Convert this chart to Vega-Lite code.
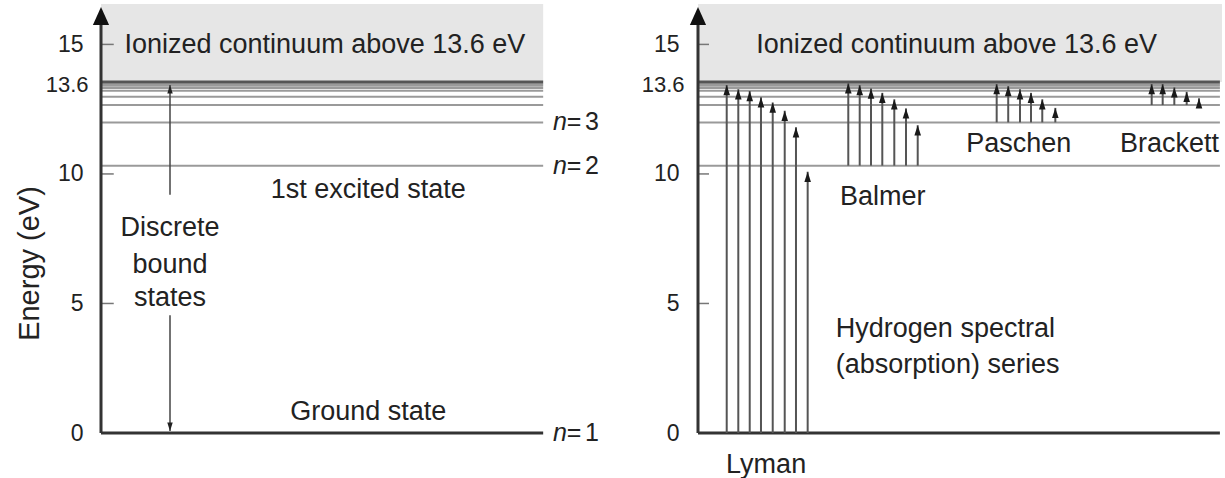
{
  "$schema": "https://vega.github.io/schema/vega-lite/v6.json",
  "padding": {"left": 15, "top": 4, "right": 0, "bottom": 0},
  "background": "white",
  "spacing": 87,
  "bounds": "flush",
  "config": {
    "font": "Liberation Sans",
    "view": {"stroke": null},
    "text": {"font": "Liberation Sans", "fontSize": 27, "color": "#222", "baseline": "middle"}
  },
  "datasets": {
    "levels": [
      {"n": 2, "E": 10.32}, {"n": 3, "E": 11.99}, {"n": 4, "E": 12.66}, {"n": 5, "E": 12.98},
      {"n": 6, "E": 13.21}, {"n": 7, "E": 13.32}, {"n": 8, "E": 13.40}, {"n": 9, "E": 13.46}
    ],
    "limit": [{"E": 13.55, "top": 16.56}],
    "ticks": [{"E": 5}, {"E": 10}, {"E": 15}],
    "nlabels": [{"n": "1", "E": 0}, {"n": "2", "E": 10.32}, {"n": "3", "E": 11.99}],
    "leftlabels": [
      {"text": "Ionized continuum above 13.6 eV", "pos": 43.9, "E": 14.97},
      {"text": "1st excited state", "pos": 52.4, "E": 9.38},
      {"text": "Ground state", "pos": 52.4, "E": 0.81},
      {"text": "Discrete", "pos": 13.53, "E": 7.91},
      {"text": "bound", "pos": 13.53, "E": 6.48},
      {"text": "states", "pos": 13.53, "E": 5.21}
    ],
    "bound": [
      {"part": "upper", "from": 9.2, "to": 13.43},
      {"part": "lower", "from": 4.55, "to": 0.08}
    ],
    "rightlabels": [
      {"text": "Ionized continuum above 13.6 eV", "pos": 49.37, "E": 14.97},
      {"text": "Paschen", "pos": 61.2, "E": 11.15},
      {"text": "Brackett", "pos": 90.0, "E": 11.15},
      {"text": "Lyman", "pos": 13.0, "E": -1.24}
    ],
    "rightleftlabels": [
      {"text": "Balmer", "pos": 27.1, "E": 9.11},
      {"text": "Hydrogen spectral", "pos": 26.3, "E": 4.01},
      {"text": "(absorption) series", "pos": 26.3, "E": 2.62}
    ],
    "transitions": [
      {"series": "Lyman", "pos": 5.48, "lower": 0, "upper": 13.43},
      {"series": "Lyman", "pos": 7.69, "lower": 0, "upper": 13.27},
      {"series": "Lyman", "pos": 9.87, "lower": 0, "upper": 13.20},
      {"series": "Lyman", "pos": 12.02, "lower": 0, "upper": 12.96},
      {"series": "Lyman", "pos": 14.26, "lower": 0, "upper": 12.76},
      {"series": "Lyman", "pos": 16.55, "lower": 0, "upper": 12.44},
      {"series": "Lyman", "pos": 18.70, "lower": 0, "upper": 11.80},
      {"series": "Lyman", "pos": 20.93, "lower": 0, "upper": 10.08},
      {"series": "Balmer", "pos": 28.68, "lower": 10.32, "upper": 13.50},
      {"series": "Balmer", "pos": 30.86, "lower": 10.32, "upper": 13.43},
      {"series": "Balmer", "pos": 33.02, "lower": 10.32, "upper": 13.30},
      {"series": "Balmer", "pos": 35.17, "lower": 10.32, "upper": 13.13},
      {"series": "Balmer", "pos": 37.46, "lower": 10.32, "upper": 12.88},
      {"series": "Balmer", "pos": 39.69, "lower": 10.32, "upper": 12.53},
      {"series": "Balmer", "pos": 41.93, "lower": 10.32, "upper": 11.88},
      {"series": "Paschen", "pos": 57.0, "lower": 11.99, "upper": 13.47},
      {"series": "Paschen", "pos": 59.2, "lower": 11.99, "upper": 13.39},
      {"series": "Paschen", "pos": 61.45, "lower": 11.99, "upper": 13.27},
      {"series": "Paschen", "pos": 63.55, "lower": 11.99, "upper": 13.13},
      {"series": "Paschen", "pos": 65.7, "lower": 11.99, "upper": 12.88},
      {"series": "Paschen", "pos": 68.19, "lower": 11.99, "upper": 12.55},
      {"series": "Brackett", "pos": 86.58, "lower": 12.66, "upper": 13.47},
      {"series": "Brackett", "pos": 88.68, "lower": 12.66, "upper": 13.47},
      {"series": "Brackett", "pos": 90.9, "lower": 12.66, "upper": 13.34},
      {"series": "Brackett", "pos": 93.26, "lower": 12.66, "upper": 13.17},
      {"series": "Brackett", "pos": 95.61, "lower": 12.66, "upper": 12.92}
    ]
  },
  "hconcat": [
    {
      "width": 510,
      "height": 429,
      "layer": [
        {
          "data": {"name": "limit"},
          "mark": {"type": "rect", "color": "#e6e6e6"},
          "encoding": {
            "x": {"datum": 0, "type": "quantitative", "scale": {"domain": [0, 100]}, "axis": null},
            "x2": {"datum": 86.7},
            "y": {
              "field": "E", "type": "quantitative",
              "scale": {"domain": [0, 16.56], "nice": false, "zero": false},
              "axis": {
                "values": [0, 5, 10, 13.6, 15],
                "labelExpr": "datum.value == 13.6 ? '13.6' : format(datum.value, 'd')",
                "domain": false, "ticks": false, "grid": false,
                "labelFont": "Liberation Sans",
                "labelColor": "#222",
                "labelFontSize": {"condition": {"test": "datum.value == 13.6", "value": 22}, "value": 23},
                "labelPadding": {"condition": {"test": "datum.value == 13.6", "value": 13}, "value": 18},
                "labelOffset": {"condition": {"test": "datum.value == 13.6", "value": 4}, "value": 0},
                "labelOverlap": false,
                "labelFlush": false,
                "title": "Energy (eV)",
                "titleFont": "Liberation Sans",
                "titleFontSize": 29,
                "titleFontWeight": "normal",
                "titleColor": "#222",
                "titleAngle": -90,
                "titleX": -72,
                "titleY": 259,
                "titleAlign": "center",
                "titleBaseline": "middle"
              }
            },
            "y2": {"field": "top"}
          }
        },
        {
          "data": {"name": "levels"},
          "mark": {"type": "rule", "color": "#9a9a9a", "strokeWidth": 2},
          "encoding": {
            "x": {"datum": 0, "type": "quantitative"},
            "x2": {"datum": 86.7},
            "y": {"field": "E", "type": "quantitative"}
          }
        },
        {
          "data": {"name": "limit"},
          "mark": {"type": "rule", "color": "#555", "strokeWidth": 3},
          "encoding": {
            "x": {"datum": 0, "type": "quantitative"},
            "x2": {"datum": 86.7},
            "y": {"field": "E", "type": "quantitative"}
          }
        },
        {
          "data": {"name": "ticks"},
          "mark": {"type": "rule", "color": "#777", "strokeWidth": 1.5},
          "encoding": {
            "x": {"datum": 0, "type": "quantitative"},
            "x2": {"datum": 2.5},
            "y": {"field": "E", "type": "quantitative"}
          }
        },
        {
          "data": {"values": [{}]},
          "mark": {"type": "rule", "color": "#333", "strokeWidth": 3},
          "encoding": {
            "x": {"datum": 0, "type": "quantitative"},
            "x2": {"datum": 86.7},
            "y": {"datum": 0, "type": "quantitative"}
          }
        },
        {
          "data": {"values": [{}]},
          "mark": {"type": "rule", "color": "#333", "strokeWidth": 3},
          "encoding": {
            "x": {"datum": 0, "type": "quantitative"},
            "y": {"datum": 0, "type": "quantitative"},
            "y2": {"datum": 16.0}
          }
        },
        {
          "data": {"values": [{}]},
          "mark": {"type": "point", "filled": true, "opacity": 1, "color": "#111", "shape": "M0,-1L0.9,1L-0.9,1Z", "size": 324, "yOffset": 9},
          "encoding": {
            "x": {"datum": 0, "type": "quantitative"},
            "y": {"datum": 16.44, "type": "quantitative"}
          }
        },
        {
          "data": {"name": "bound"},
          "mark": {"type": "rule", "color": "#444", "strokeWidth": 1.5},
          "encoding": {
            "x": {"datum": 13.53, "type": "quantitative"},
            "y": {"field": "from", "type": "quantitative"},
            "y2": {"field": "to"}
          }
        },
        {
          "data": {"name": "bound"},
          "transform": [{"filter": "datum.part == 'upper'"}],
          "mark": {"type": "point", "filled": true, "opacity": 1, "color": "#222", "shape": "M0,-1L0.55,0.7L-0.55,0.7Z", "size": 100, "yOffset": 5},
          "encoding": {
            "x": {"datum": 13.53, "type": "quantitative"},
            "y": {"field": "to", "type": "quantitative"}
          }
        },
        {
          "data": {"name": "bound"},
          "transform": [{"filter": "datum.part == 'lower'"}],
          "mark": {"type": "point", "filled": true, "opacity": 1, "color": "#222", "shape": "M0,1L0.55,-0.7L-0.55,-0.7Z", "size": 100, "yOffset": -5},
          "encoding": {
            "x": {"datum": 13.53, "type": "quantitative"},
            "y": {"field": "to", "type": "quantitative"}
          }
        },
        {
          "data": {"name": "leftlabels"},
          "mark": {"type": "text", "align": "center"},
          "encoding": {
            "x": {"field": "pos", "type": "quantitative"},
            "y": {"field": "E", "type": "quantitative"},
            "text": {"field": "text"}
          }
        },
        {
          "data": {"name": "nlabels"},
          "mark": {"type": "text", "align": "left", "fontStyle": "italic", "fontSize": 25},
          "encoding": {
            "x": {"datum": 88.63, "type": "quantitative"},
            "y": {"field": "E", "type": "quantitative"},
            "text": {"value": "n"}
          }
        },
        {
          "data": {"name": "nlabels"},
          "mark": {"type": "text", "align": "center", "fontSize": 25},
          "encoding": {
            "x": {"datum": 92.75, "type": "quantitative"},
            "y": {"field": "E", "type": "quantitative"},
            "text": {"value": "="}
          }
        },
        {
          "data": {"name": "nlabels"},
          "mark": {"type": "text", "align": "left", "fontSize": 25},
          "encoding": {
            "x": {"datum": 94.9, "type": "quantitative"},
            "y": {"field": "E", "type": "quantitative"},
            "text": {"field": "n"}
          }
        }
      ]
    },
    {
      "width": 524,
      "height": 429,
      "layer": [
        {
          "data": {"name": "limit"},
          "mark": {"type": "rect", "color": "#e6e6e6"},
          "encoding": {
            "x": {"datum": 0, "type": "quantitative", "scale": {"domain": [0, 100]}, "axis": null},
            "x2": {"datum": 100},
            "y": {
              "field": "E", "type": "quantitative",
              "scale": {"domain": [0, 16.56], "nice": false, "zero": false},
              "axis": {
                "values": [0, 5, 10, 13.6, 15],
                "labelExpr": "datum.value == 13.6 ? '13.6' : format(datum.value, 'd')",
                "domain": false, "ticks": false, "grid": false,
                "labelFont": "Liberation Sans",
                "labelColor": "#222",
                "labelFontSize": {"condition": {"test": "datum.value == 13.6", "value": 22}, "value": 23},
                "labelPadding": {"condition": {"test": "datum.value == 13.6", "value": 14}, "value": 19},
                "labelOffset": {"condition": {"test": "datum.value == 13.6", "value": 4}, "value": 0},
                "labelOverlap": false,
                "labelFlush": false,
                "title": null
              }
            },
            "y2": {"field": "top"}
          }
        },
        {
          "data": {"name": "levels"},
          "mark": {"type": "rule", "color": "#9a9a9a", "strokeWidth": 2},
          "encoding": {
            "x": {"datum": 0, "type": "quantitative"},
            "x2": {"datum": 99.6},
            "y": {"field": "E", "type": "quantitative"}
          }
        },
        {
          "data": {"name": "limit"},
          "mark": {"type": "rule", "color": "#555", "strokeWidth": 3},
          "encoding": {
            "x": {"datum": 0, "type": "quantitative"},
            "x2": {"datum": 99.6},
            "y": {"field": "E", "type": "quantitative"}
          }
        },
        {
          "data": {"name": "ticks"},
          "mark": {"type": "rule", "color": "#777", "strokeWidth": 1.5},
          "encoding": {
            "x": {"datum": 0, "type": "quantitative"},
            "x2": {"datum": 2.1},
            "y": {"field": "E", "type": "quantitative"}
          }
        },
        {
          "data": {"values": [{}]},
          "mark": {"type": "rule", "color": "#333", "strokeWidth": 3},
          "encoding": {
            "x": {"datum": 0, "type": "quantitative"},
            "x2": {"datum": 99.6},
            "y": {"datum": 0, "type": "quantitative"}
          }
        },
        {
          "data": {"values": [{}]},
          "mark": {"type": "rule", "color": "#333", "strokeWidth": 3},
          "encoding": {
            "x": {"datum": 0, "type": "quantitative"},
            "y": {"datum": 0, "type": "quantitative"},
            "y2": {"datum": 16.0}
          }
        },
        {
          "data": {"values": [{}]},
          "mark": {"type": "point", "filled": true, "opacity": 1, "color": "#111", "shape": "M0,-1L0.9,1L-0.9,1Z", "size": 324, "yOffset": 9},
          "encoding": {
            "x": {"datum": 0, "type": "quantitative"},
            "y": {"datum": 16.44, "type": "quantitative"}
          }
        },
        {
          "data": {"name": "transitions"},
          "mark": {"type": "rule", "color": "#555", "strokeWidth": 2},
          "encoding": {
            "x": {"field": "pos", "type": "quantitative"},
            "y": {"field": "lower", "type": "quantitative"},
            "y2": {"field": "upper"}
          }
        },
        {
          "data": {"name": "transitions"},
          "mark": {"type": "point", "filled": true, "opacity": 1, "color": "#1a1a1a", "shape": "M0,-1L0.55,0.7L-0.55,0.7Z", "size": 144, "yOffset": 6},
          "encoding": {
            "x": {"field": "pos", "type": "quantitative"},
            "y": {"field": "upper", "type": "quantitative"}
          }
        },
        {
          "data": {"name": "rightlabels"},
          "mark": {"type": "text", "align": "center"},
          "encoding": {
            "x": {"field": "pos", "type": "quantitative"},
            "y": {"field": "E", "type": "quantitative"},
            "text": {"field": "text"}
          }
        },
        {
          "data": {"name": "rightleftlabels"},
          "mark": {"type": "text", "align": "left"},
          "encoding": {
            "x": {"field": "pos", "type": "quantitative"},
            "y": {"field": "E", "type": "quantitative"},
            "text": {"field": "text"}
          }
        }
      ]
    }
  ]
}
